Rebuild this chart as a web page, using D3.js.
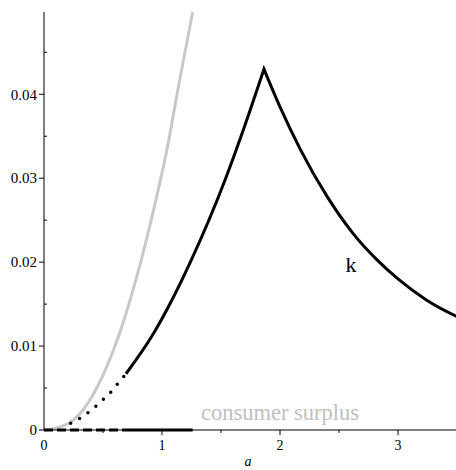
<!DOCTYPE html>
<html><head><meta charset="utf-8">
<script src="https://cdn.jsdelivr.net/npm/d3@7"></script>
<style>body{margin:0;background:#fff}svg{display:block}text{font-family:"Liberation Serif","Times New Roman",serif}</style>
</head><body>
<script>
// Data
const grayA = [0, 0.1, 0.25, 0.39, 0.53, 0.64, 0.73, 0.915, 1.04, 1.15, 1.26];
const grayV = [0, 0.0002, 0.0012, 0.0036, 0.0075, 0.0115, 0.0155, 0.0254, 0.0333, 0.0417, 0.0498];
const dotA = [0.226, 0.316, 0.404, 0.483, 0.559, 0.63, 0.695];
const dotV = [0.0008, 0.0015, 0.0024, 0.0034, 0.0044, 0.0056, 0.0067];
const kRiseA = [0.695, 0.924, 1.07, 1.24, 1.54, 1.70, 1.864];
const kRiseV = [0.0067, 0.0114, 0.0151, 0.0200, 0.0300, 0.0362, 0.043];
const kFallA = [1.864, 2.0, 2.17, 2.40, 2.62, 2.82, 3.0, 3.24, 3.5];
const kFallV = [0.043, 0.0385, 0.0335, 0.0278, 0.0234, 0.0203, 0.0180, 0.0155, 0.0135];
const zeroDashA = [0, 0.68];
const zeroSolidA = [0.68, 1.26];
const xTicks = [0, 1, 2, 3];
const xMinor = [0.5, 1.5, 2.5];
const yTicks = [0, 0.01, 0.02, 0.03, 0.04];
const yTickLabels = ["0", "0.01", "0.02", "0.03", "0.04"];
const yMinor = [0.005, 0.015, 0.025, 0.035, 0.045];

const W = 456, H = 470;
const svg = d3.select("body").append("svg").attr("width", W).attr("height", H);
const x = d3.scaleLinear().domain([0, 3.5]).range([44, 457]);
const y = d3.scaleLinear().domain([0, 0.0498]).range([430, 12]);

const toPts = (A, V) => A.map((a, i) => [a, V[i]]);
const line = d3.line().x(d => x(d[0])).y(d => y(d[1]));
const smooth = d3.line().x(d => x(d[0])).y(d => y(d[1])).curve(d3.curveMonotoneX);

// gray curve
svg.append("path").attr("d", smooth(toPts(grayA, grayV)))
  .attr("fill", "none").attr("stroke", "#c8c8c8").attr("stroke-width", 3);

// axes
const gx = svg.append("g").attr("transform", `translate(0,${y(0)})`);
gx.append("line").attr("x1", x(0)).attr("x2", W).attr("stroke", "#000").attr("stroke-width", 1);
gx.selectAll(".mj").data(xTicks.filter(d => d > 0)).join("line").attr("class", "mj")
  .attr("x1", d => x(d)).attr("x2", d => x(d)).attr("y1", 0).attr("y2", 5).attr("stroke", "#000");
gx.selectAll(".mn").data(xMinor).join("line").attr("class", "mn")
  .attr("x1", d => x(d)).attr("x2", d => x(d)).attr("y1", 0).attr("y2", 3).attr("stroke", "#000");
gx.selectAll("text").data(xTicks).join("text")
  .attr("x", d => x(d)).attr("y", 20).attr("text-anchor", "middle")
  .attr("font-size", 14).text(d => d);
svg.append("text").attr("x", 248).attr("y", 466).attr("text-anchor", "middle")
  .attr("font-size", 14).attr("font-style", "italic").text("a");

const gy = svg.append("g").attr("transform", `translate(${x(0)},0)`);
gy.append("line").attr("y1", y(0)).attr("y2", 12).attr("stroke", "#000");
gy.selectAll(".mj").data(yTicks).join("line").attr("class", "mj")
  .attr("x1", -5).attr("x2", 0).attr("y1", d => y(d)).attr("y2", d => y(d)).attr("stroke", "#000");
gy.selectAll(".mn").data(yMinor).join("line").attr("class", "mn")
  .attr("x1", 0).attr("x2", 3).attr("y1", d => y(d)).attr("y2", d => y(d)).attr("stroke", "#000");
gy.selectAll("text").data(yTicks).join("text")
  .attr("x", -7).attr("y", d => y(d)).attr("dy", "0.35em").attr("text-anchor", "end")
  .attr("font-size", 15).text((d, i) => yTickLabels[i]);

// zero line (dashed then solid)
svg.append("path").attr("d", line(zeroDashA.map(a => [a, 0])))
  .attr("fill", "none").attr("stroke", "#000").attr("stroke-width", 3).attr("stroke-dasharray", "9,4");
svg.append("path").attr("d", line(zeroSolidA.map(a => [a, 0])))
  .attr("fill", "none").attr("stroke", "#000").attr("stroke-width", 3);

// dotted part of k
svg.append("path").attr("d", smooth(toPts(dotA, dotV)))
  .attr("fill", "none").attr("stroke", "#000").attr("stroke-width", 3.5)
  .attr("stroke-linecap", "round").attr("stroke-dasharray", "0,10.2");
// solid k: rising and falling branches joined at a sharp peak
const dRise = smooth(toPts(kRiseA, kRiseV));
const dFall = smooth(toPts(kFallA, kFallV)).replace(/^M[^A-Za-z]*/, "");
svg.append("path").attr("d", dRise + dFall)
  .attr("fill", "none").attr("stroke", "#000").attr("stroke-width", 3)
  .attr("stroke-linejoin", "miter");

svg.append("text").attr("x", 351).attr("y", 272).attr("text-anchor", "middle")
  .attr("font-size", 22).text("k");
svg.append("text").attr("x", 280).attr("y", 420).attr("text-anchor", "middle")
  .attr("font-size", 22.5).attr("fill", "#c0c0c0").text("consumer surplus");
</script>
</body></html>
